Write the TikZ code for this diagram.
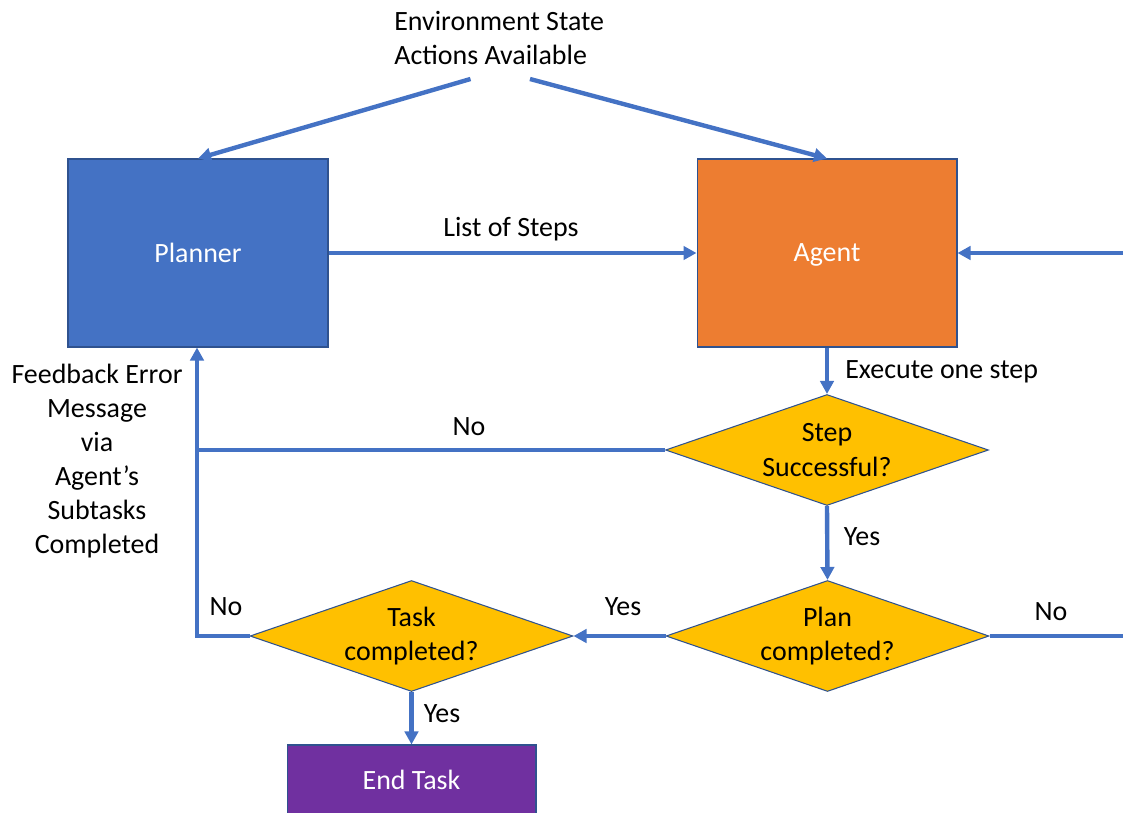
\documentclass[tikz,border=0pt]{standalone}
\usepackage{fontspec}
\setmainfont{Carlito}
\usetikzlibrary{arrows.meta,shapes.geometric}
\definecolor{lineblue}{HTML}{4472C4}
\definecolor{edgeblue}{HTML}{2F528F}
\definecolor{boxorange}{HTML}{ED7D31}
\definecolor{diagold}{HTML}{FFC000}
\definecolor{boxpurple}{HTML}{7030A0}
\tikzset{
  base/.style={font=\fontsize{15.9}{19.4}\selectfont},
  procbox/.style={base, rectangle, draw=edgeblue, line width=0.6pt, text=white, minimum width=5.2cm, minimum height=3.76cm, inner sep=0pt, text depth=0pt},
  decision/.style={base, diamond, shape aspect=2.91, draw=edgeblue, line width=0.6pt, fill=diagold, text=black, minimum width=6.46cm, minimum height=2.22cm, inner sep=0pt, align=center},
  conn/.style={draw=lineblue, line width=2.5pt},
  arr/.style={conn, -{Triangle[length=7.4pt,width=7.6pt]}},
  lbl/.style={base, text=black, inner sep=0pt}
}
\begin{document}
\begin{tikzpicture}[x=0.02cm,y=-0.02cm]
\useasboundingbox (0,0) rectangle (1123,812);

% nodes
\node[procbox, fill=lineblue] (planner) at (198,253) {Planner};
\node[procbox, fill=boxorange] (agent) at (827,253) {Agent};
\node[decision] (step) at (827,450) {Step\\Successful?};
\node[decision] (plan) at (827.5,636) {Plan\\completed?};
\node[decision] (task) at (411.5,636) {Task\\completed?};
\node[procbox, fill=boxpurple, minimum width=4.98cm, minimum height=1.4cm] (end) at (411.5,780) {End Task};

\node[lbl, anchor=west, align=left] (env) at (394,38) {Environment State\\Actions Available};
\node[lbl, align=center] (fb) at (97,461) {Feedback Error\\Message\\via\\Agent’s\\Subtasks\\Completed};

% free ends
\coordinate (envL) at (470.5,79);
\coordinate (envR) at (530,79);
\coordinate (join) at (197,450);
\coordinate (leftcorner) at (197,636);
\coordinate (rightlow) at (1125,636);
\coordinate (righthigh) at (1125,253);

% connectors
\draw[arr] (envL) -- (planner.north);
\draw[arr] (envR) -- (agent.north);
\draw[arr] (planner.east) -- (agent.west);
\draw[arr] (agent.south) -- (step.north);
\draw[conn] (step.west) -- (join);
\draw[arr] (step.south) -- (plan.north);
\draw[arr] (plan.west) -- (task.east);
\draw[arr, line join=miter] (plan.east) -- (rightlow) -- (righthigh) -- (agent.east);
\draw[arr, line join=miter] (task.west) -- (leftcorner) -- (join) -- (leftcorner |- planner.south);
\draw[arr] (task.south) -- (end.north);

% labels
\node[lbl] (l1) at (511,229) {List of Steps};
\node[lbl, anchor=west] (l2) at (845,372) {Execute one step};
\node[lbl] (l3) at (469,427) {No};
\node[lbl] (l4) at (862,537) {Yes};
\node[lbl] (l5) at (623,607) {Yes};
\node[lbl] (l6) at (1051,612) {No};
\node[lbl] (l7) at (226,607) {No};
\node[lbl] (l8) at (442,714) {Yes};
\end{tikzpicture}
\end{document}
